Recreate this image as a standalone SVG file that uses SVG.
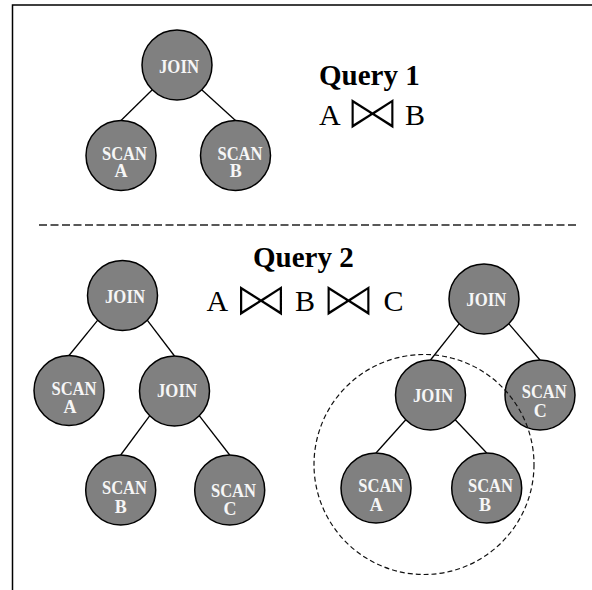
<svg xmlns="http://www.w3.org/2000/svg" width="592" height="590" viewBox="0 0 592 590">
<style>
.frame{fill:none;stroke:#000;stroke-width:1.5}
.edge{stroke:#000;stroke-width:1.3;fill:none}
.node{fill:#808080;stroke:#000;stroke-width:1.5}
.lbl{font-family:"Liberation Serif","Times New Roman",serif;font-weight:bold;font-size:18px;fill:#f6f6f6;text-anchor:middle}
.title{font-family:"Liberation Serif","Times New Roman",serif;font-weight:bold;font-size:29px;fill:#000}
.expr{font-family:"Liberation Serif","Times New Roman",serif;font-size:30px;fill:#000}
.bow{font-family:"DejaVu Sans",sans-serif;font-size:49px;fill:#000;stroke:#fff;stroke-width:2.1;paint-order:fill}
.dash{fill:none;stroke:#222;stroke-width:1.3;stroke-dasharray:8 3.5}
.dashc{fill:none;stroke:#111;stroke-width:1.2;stroke-dasharray:5 3}
</style>
<rect width="592" height="590" fill="#fff"/>
<path class="frame" d="M12.5 590 V5 H592"/>
<line class="dash" x1="39" y1="225" x2="576" y2="225"/>

<g id="q1-text">
<text class="title" x="319" y="85">Query 1</text>
<text class="expr" x="319" y="125">A</text>
<text class="bow" x="344.5" y="129.3" textLength="56" lengthAdjust="spacingAndGlyphs">⋈</text>
<text class="expr" x="405" y="125">B</text>
</g>
<g id="q2-text">
<text class="title" x="253" y="266.7">Query 2</text>
<text class="expr" x="206.5" y="310.7">A</text>
<text class="bow" x="233" y="316.3" textLength="56" lengthAdjust="spacingAndGlyphs">⋈</text>
<text class="expr" x="295" y="310.7">B</text>
<text class="bow" x="320.5" y="316.3" textLength="56" lengthAdjust="spacingAndGlyphs">⋈</text>
<text class="expr" x="383.5" y="310.7">C</text>
</g>

<g id="connectors">
<line class="edge" x1="152.3" y1="89.7" x2="121" y2="120.5"/>
<line class="edge" x1="201.7" y1="89.7" x2="235.5" y2="120.5"/>
<line class="edge" x1="97.8" y1="320.2" x2="69" y2="355.5"/>
<line class="edge" x1="147.2" y1="320.2" x2="174.5" y2="356"/>
<line class="edge" x1="149.8" y1="415.7" x2="120.7" y2="455"/>
<line class="edge" x1="199.2" y1="415.7" x2="229.7" y2="455"/>
<line class="edge" x1="459.3" y1="323.7" x2="430.5" y2="360"/>
<line class="edge" x1="508.7" y1="323.7" x2="540" y2="360"/>
<line class="edge" x1="405.8" y1="419.7" x2="376" y2="453"/>
<line class="edge" x1="455.2" y1="419.7" x2="486.7" y2="453"/>
</g>

<g id="q1-join">
<circle class="node" cx="177" cy="65" r="35"/>
<text class="lbl" x="179" y="72.5" textLength="40" lengthAdjust="spacingAndGlyphs">JOIN</text>
</g>
<g id="q1-scan-a">
<circle class="node" cx="121" cy="155.5" r="35"/>
<text class="lbl"><tspan x="124.5" y="160" textLength="45" lengthAdjust="spacingAndGlyphs">SCAN</tspan><tspan x="121" y="177.3">A</tspan></text>
</g>
<g id="q1-scan-b">
<circle class="node" cx="235.5" cy="155.5" r="35"/>
<text class="lbl"><tspan x="240" y="160" textLength="45" lengthAdjust="spacingAndGlyphs">SCAN</tspan><tspan x="235.8" y="177.3">B</tspan></text>
</g>

<g id="q2l-join">
<circle class="node" cx="122.5" cy="295.5" r="35"/>
<text class="lbl" x="125" y="303" textLength="40" lengthAdjust="spacingAndGlyphs">JOIN</text>
</g>
<g id="q2l-scan-a">
<circle class="node" cx="69" cy="390.5" r="35"/>
<text class="lbl"><tspan x="74" y="395" textLength="45" lengthAdjust="spacingAndGlyphs">SCAN</tspan><tspan x="70" y="412.7">A</tspan></text>
</g>
<g id="q2l-join2">
<circle class="node" cx="174.5" cy="391" r="35"/>
<text class="lbl" x="177" y="397" textLength="40" lengthAdjust="spacingAndGlyphs">JOIN</text>
</g>
<g id="q2l-scan-b">
<circle class="node" cx="120.7" cy="490" r="35"/>
<text class="lbl"><tspan x="124.5" y="493.5" textLength="45" lengthAdjust="spacingAndGlyphs">SCAN</tspan><tspan x="120.7" y="512.7">B</tspan></text>
</g>
<g id="q2l-scan-c">
<circle class="node" cx="229.7" cy="490" r="35"/>
<text class="lbl"><tspan x="233.5" y="496.5" textLength="45" lengthAdjust="spacingAndGlyphs">SCAN</tspan><tspan x="230" y="515">C</tspan></text>
</g>

<g id="q2r-join">
<circle class="node" cx="484" cy="299" r="35"/>
<text class="lbl" x="486.3" y="306" textLength="40" lengthAdjust="spacingAndGlyphs">JOIN</text>
</g>
<g id="q2r-join2">
<circle class="node" cx="430.5" cy="395" r="35"/>
<text class="lbl" x="433" y="401.7" textLength="40" lengthAdjust="spacingAndGlyphs">JOIN</text>
</g>
<g id="q2r-scan-c">
<circle class="node" cx="540" cy="395" r="35"/>
<text class="lbl"><tspan x="544.2" y="397.7" textLength="45" lengthAdjust="spacingAndGlyphs">SCAN</tspan><tspan x="540.3" y="416.7">C</tspan></text>
</g>
<g id="q2r-scan-a">
<circle class="node" cx="376" cy="488" r="35"/>
<text class="lbl"><tspan x="380.8" y="491.7" textLength="45" lengthAdjust="spacingAndGlyphs">SCAN</tspan><tspan x="376.3" y="510.7">A</tspan></text>
</g>
<g id="q2r-scan-b">
<circle class="node" cx="486.7" cy="488" r="35"/>
<text class="lbl"><tspan x="490.5" y="491.7" textLength="45" lengthAdjust="spacingAndGlyphs">SCAN</tspan><tspan x="485" y="510.7">B</tspan></text>
</g>

<circle id="subtree-outline" class="dashc" cx="424" cy="464.5" r="110"/>
</svg>
